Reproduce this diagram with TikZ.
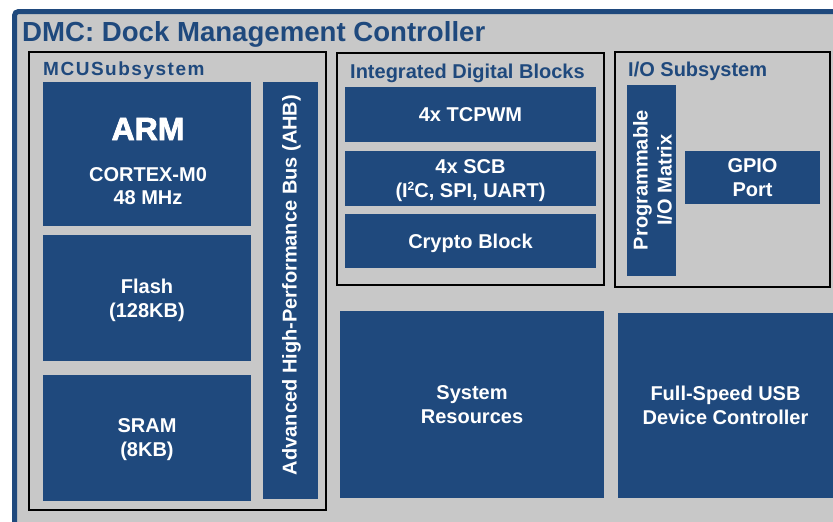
\documentclass[tikz,border=0pt]{standalone}
\usepackage{fontspec}
\setmainfont{Liberation Sans}
\newfontfamily\armfont{Liberation Sans Bold}[FakeBold=2.5]
\definecolor{dmcblue}{RGB}{31,73,125}
\definecolor{dmcgray}{RGB}{200,200,200}
\newcommand{\supertwo}{\raisebox{6.5pt}{\fontsize{12}{12}\selectfont 2}}
\begin{document}
\begin{tikzpicture}[x=1pt,y=-1pt,
  frame/.style={draw=dmcblue,line width=5pt,fill=dmcgray,rounded corners=4pt},
  group/.style={draw=black,line width=1.6pt,fill=dmcgray,inner sep=0pt},
  blk/.style={fill=dmcblue,inner sep=0pt,text=white,text depth=0pt,font=\bfseries\fontsize{20}{24}\selectfont,align=center},
  hdr/.style={text=dmcblue,font=\bfseries\fontsize{20}{24}\selectfont,inner sep=0pt,anchor=base west},
  lbl/.style={text=white,font=\bfseries\fontsize{20}{24}\selectfont,align=center,inner sep=0pt}
]
\useasboundingbox (0,0) rectangle (833,522);
\clip (0,0) rectangle (833,522);
% outer frame
\draw[frame] (14.5,11.5) rectangle (860,560);
\node[text=dmcblue,font=\bfseries\fontsize{27.6}{30}\selectfont,inner sep=0pt,anchor=base west] (title) at (22,41.5) {DMC: Dock Management Controller};

% MCU subsystem
\node[group,minimum width=297pt,minimum height=458pt] (mcu) at (177.5,281) {};
\node[hdr,font=\bfseries\fontsize{19}{24}\selectfont\addfontfeature{LetterSpace=8}] (mcuh) at (43,75.5) {MCUSubsystem};
\node[blk,minimum width=208pt,minimum height=144pt] (cpu) at (147,154) {};
\node[text=white,font=\armfont\fontsize{32}{32}\selectfont,inner sep=0pt,anchor=base] (arm) at (148,140) {ARM};
\node[lbl,anchor=base] (cortex) at (148,181) {CORTEX-M0};
\node[lbl,anchor=base] (mhz) at (148,204) {48 MHz};
\node[blk,minimum width=208pt,minimum height=126pt] (flash) at (147,298) {Flash\\(128KB)};
\node[blk,minimum width=208pt,minimum height=126pt] (sram) at (147,438) {SRAM\\(8KB)};
\node[blk,minimum width=55pt,minimum height=417pt] (ahb) at (290.5,290.5) {};
\node[lbl,rotate=90] (ahbt) at (291.5,285) {Advanced High-Performance Bus (AHB)};

% Integrated digital blocks
\node[group,minimum width=267pt,minimum height=232pt] (idb) at (470.5,169) {};
\node[hdr] (idbh) at (350,78) {Integrated Digital Blocks};
\node[blk,minimum width=251pt,minimum height=55pt] (tcpwm) at (470.5,114.5) {4x TCPWM};
\node[blk,minimum width=251pt,minimum height=55pt] (scb) at (470.5,178.5) {4x SCB\\(I\supertwo C, SPI, UART)};
\node[blk,minimum width=251pt,minimum height=54pt] (crypto) at (470.5,241) {Crypto Block};

% I/O subsystem
\node[group,minimum width=215pt,minimum height=235pt] (io) at (722.5,169.5) {};
\node[hdr] (ioh) at (628,76) {I/O Subsystem};
\node[blk,minimum width=49pt,minimum height=191pt] (pio) at (651.5,180.5) {};
\node[lbl,rotate=90] (piot) at (652.5,180) {Programmable\\I/O Matrix};
\node[blk,minimum width=135pt,minimum height=53pt] (gpio) at (752.5,177.5) {GPIO\\Port};

% bottom blocks
\node[blk,minimum width=264pt,minimum height=187pt] (sysres) at (472,404.5) {System\\Resources};
\node[blk,minimum width=215pt,minimum height=185pt] (usb) at (725.5,405.5) {Full-Speed USB\\Device Controller};
\end{tikzpicture}
\end{document}
